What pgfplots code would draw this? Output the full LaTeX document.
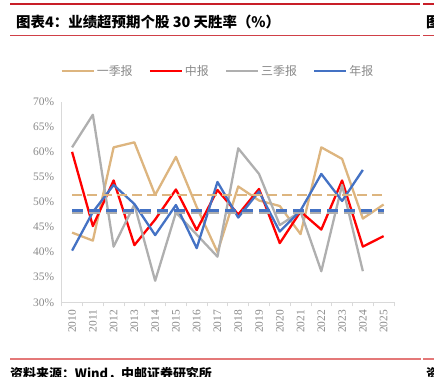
\documentclass[border=0pt]{standalone}
\usepackage{pgfplots}
\pgfplotsset{compat=1.18}
\usepackage{fontspec}
\setmainfont{Liberation Serif}
\newfontfamily\cjk{Noto Sans CJK SC}
\definecolor{ctan}{RGB}{221,181,127}
\definecolor{cred}{RGB}{255,0,0}
\definecolor{cgray}{RGB}{175,175,175}
\definecolor{cblue}{RGB}{68,114,196}
\definecolor{ctxt}{RGB}{137,137,137}
\definecolor{hdr}{RGB}{200,30,40}
\definecolor{srcl}{RGB}{228,120,120}
\definecolor{axl}{RGB}{217,217,217}
\begin{document}
\begin{tikzpicture}[x=1bp,y=1bp]
\path[use as bounding box] (0,0) rectangle (434,376);
\draw[hdr, line width=1.6bp] (10,372) -- (420,372);
\draw[hdr, line width=1.6bp] (423,372) -- (440,372);
\draw[hdr!85, line width=0.9bp] (10,340.3) -- (420,340.3);
\draw[hdr!85, line width=0.9bp] (423,340.3) -- (440,340.3);
\node[anchor=west, inner sep=0] at (16,354) {\cjk\bfseries\fontsize{14.5}{16}\selectfont 图表4：业绩超预期个股 30 天胜率（\%）};
\node[anchor=west, inner sep=0] at (426,354) {\cjk\bfseries\fontsize{14.5}{16}\selectfont 图};
\draw[srcl, line width=1.2bp] (10,17) -- (421,17);
\draw[srcl, line width=1.2bp] (423,17) -- (440,17);
\node[anchor=north west, inner sep=0] at (10,9) {\cjk\bfseries\fontsize{13}{15}\selectfont 资料来源：Wind，中邮证券研究所};
\node[anchor=north west, inner sep=0] at (426,9) {\cjk\bfseries\fontsize{13}{15}\selectfont 资};
\begin{axis}[
  at={(61.7bp,73.7bp)}, anchor=south west, scale only axis,
  width=332.3bp, height=200.6bp,
  xmin=-0.5, xmax=15.5, ymin=30, ymax=70,
  axis lines*=left,
  axis line style={-, draw=axl, line width=0.8bp},
  xtick={-0.5,0.5,1.5,2.5,3.5,4.5,5.5,6.5,7.5,8.5,9.5,10.5,11.5,12.5,13.5,14.5,15.5},
  x tick label as interval,
  xticklabels={2010,2011,2012,2013,2014,2015,2016,2017,2018,2019,2020,2021,2022,2023,2024,2025},
  xticklabel style={rotate=90, anchor=east, font=\fontsize{11.5}{13}\selectfont, text=ctxt},
  ytick={30,35,40,45,50,55,60,65,70},
  yticklabels={30\%,35\%,40\%,45\%,50\%,55\%,60\%,65\%,70\%},
  yticklabel style={font=\fontsize{11.5}{13}\selectfont, text=ctxt},
  tick align=outside, major tick length=4bp,
  xtick style={draw=axl, line width=0.8bp},
  ytick style={draw=none},
  legend columns=4,
  legend style={at={(0.47,1.153)}, anchor=center, draw=none, fill=none,
    font=\cjk\fontsize{12}{14}\selectfont, text=ctxt,
    /tikz/every even column/.append style={column sep=14bp},
    inner sep=0pt},
  legend image code/.code={\draw[#1] (0bp,0bp) -- (32bp,0bp);},
  every axis plot/.append style={line width=2.3bp, line join=round},
]
\addplot[ctan] coordinates {(0,43.9)(1,42.3)(2,60.9)(3,61.9)(4,51.4)(5,59.0)(6,49.0)(7,40.0)(8,53.1)(9,50.3)(10,49.2)(11,43.6)(12,60.9)(13,58.6)(14,46.7)(15,49.5)};
\addlegendentry{一季报}
\addplot[cred] coordinates {(0,60.0)(1,45.2)(2,54.3)(3,41.4)(4,46.5)(5,52.5)(6,44.4)(7,52.4)(8,47.5)(9,52.6)(10,41.8)(11,48.1)(12,44.5)(13,54.3)(14,41.1)(15,43.2)};
\addlegendentry{中报}
\addplot[cgray] coordinates {(0,60.9)(1,67.4)(2,41.1)(3,49.5)(4,34.3)(5,47.9)(6,43.5)(7,39.1)(8,60.7)(9,55.6)(10,45.4)(11,48.1)(12,36.2)(13,53.4)(14,36.2)};
\addlegendentry{三季报}
\addplot[cblue] coordinates {(0,40.3)(1,48.0)(2,53.4)(3,49.6)(4,43.4)(5,49.4)(6,40.8)(7,54.0)(8,46.9)(9,52.1)(10,44.1)(11,48.3)(12,55.6)(13,50.2)(14,56.4)};
\addlegendentry{年报}
\addplot[ctan, forget plot, line width=2bp, dash pattern=on 10bp off 5bp] coordinates {(0,51.3)(15,51.3)};
\addplot[cred!60, forget plot, line width=3.2bp, dash pattern=on 11bp off 6bp] coordinates {(0,48.1)(15,48.1)};
\addplot[cgray, forget plot, line width=3.2bp, dash pattern=on 11bp off 6bp] coordinates {(0,47.95)(15,47.95)};
\addplot[cblue, forget plot, line width=3.2bp, dash pattern=on 11bp off 6bp] coordinates {(0,48.3)(15,48.3)};
\end{axis}
\end{tikzpicture}
\end{document}
